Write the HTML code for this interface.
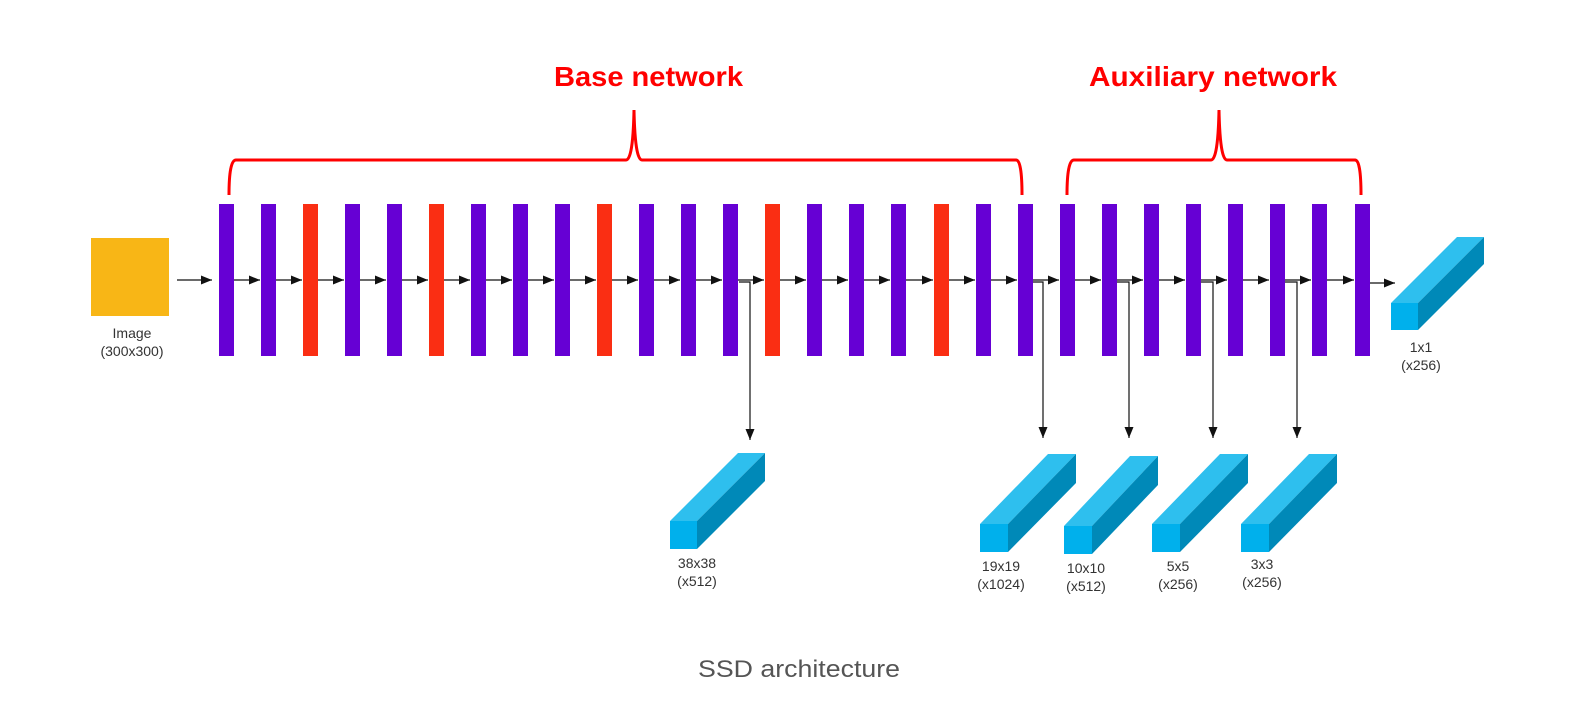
<!DOCTYPE html>
<html><head><meta charset="utf-8"><style>
html,body{margin:0;padding:0;background:#fff;}
svg{display:block;}
</style></head><body>
<svg width="1570" height="708" viewBox="0 0 1570 708" xmlns="http://www.w3.org/2000/svg" font-family="Liberation Sans, sans-serif">
<defs>
<marker id="ah" markerWidth="11" markerHeight="9" refX="11" refY="4.5" orient="auto" markerUnits="userSpaceOnUse">
<path d="M0,0 L11,4.5 L0,9 z" fill="#111"/>
</marker>
</defs>
<text x="554" y="86" font-size="28" font-weight="bold" fill="#f00" textLength="189" lengthAdjust="spacingAndGlyphs">Base network</text>
<text x="1089" y="86" font-size="28" font-weight="bold" fill="#f00" textLength="248" lengthAdjust="spacingAndGlyphs">Auxiliary network</text>
<path d="M229,195 Q229,160 236,160 L626,160 Q633,160 634,110 Q635,160 642,160 L1016,160 Q1022,160 1022,195" fill="none" stroke="#f00" stroke-width="3"/>
<path d="M1067,195 Q1067,160 1074,160 L1211,160 Q1218,160 1219,110 Q1220,160 1227,160 L1355,160 Q1361,160 1361,195" fill="none" stroke="#f00" stroke-width="3"/>
<rect x="91" y="238" width="78" height="78" fill="#F8B616"/>
<g font-size="14" fill="#333" text-anchor="middle">
<text x="132" y="338">Image</text><text x="132" y="356">(300x300)</text>
</g>
<g stroke="#111" stroke-width="1.3">
<line x1="177" y1="280" x2="212" y2="280" marker-end="url(#ah)"/>
<line x1="234" y1="280" x2="260" y2="280" marker-end="url(#ah)"/>
<line x1="276" y1="280" x2="302" y2="280" marker-end="url(#ah)"/>
<line x1="318" y1="280" x2="344" y2="280" marker-end="url(#ah)"/>
<line x1="360" y1="280" x2="386" y2="280" marker-end="url(#ah)"/>
<line x1="402" y1="280" x2="428" y2="280" marker-end="url(#ah)"/>
<line x1="444" y1="280" x2="470" y2="280" marker-end="url(#ah)"/>
<line x1="486" y1="280" x2="512" y2="280" marker-end="url(#ah)"/>
<line x1="528" y1="280" x2="554" y2="280" marker-end="url(#ah)"/>
<line x1="570" y1="280" x2="596" y2="280" marker-end="url(#ah)"/>
<line x1="612" y1="280" x2="638" y2="280" marker-end="url(#ah)"/>
<line x1="654" y1="280" x2="680" y2="280" marker-end="url(#ah)"/>
<line x1="696" y1="280" x2="722" y2="280" marker-end="url(#ah)"/>
<line x1="738" y1="280" x2="764" y2="280" marker-end="url(#ah)"/>
<line x1="780" y1="280" x2="806" y2="280" marker-end="url(#ah)"/>
<line x1="822" y1="280" x2="848" y2="280" marker-end="url(#ah)"/>
<line x1="864" y1="280" x2="890" y2="280" marker-end="url(#ah)"/>
<line x1="906" y1="280" x2="933" y2="280" marker-end="url(#ah)"/>
<line x1="949" y1="280" x2="975" y2="280" marker-end="url(#ah)"/>
<line x1="991" y1="280" x2="1017" y2="280" marker-end="url(#ah)"/>
<line x1="1033" y1="280" x2="1059" y2="280" marker-end="url(#ah)"/>
<line x1="1075" y1="280" x2="1101" y2="280" marker-end="url(#ah)"/>
<line x1="1117" y1="280" x2="1143" y2="280" marker-end="url(#ah)"/>
<line x1="1159" y1="280" x2="1185" y2="280" marker-end="url(#ah)"/>
<line x1="1201" y1="280" x2="1227" y2="280" marker-end="url(#ah)"/>
<line x1="1243" y1="280" x2="1269" y2="280" marker-end="url(#ah)"/>
<line x1="1285" y1="280" x2="1311" y2="280" marker-end="url(#ah)"/>
<line x1="1327" y1="280" x2="1354" y2="280" marker-end="url(#ah)"/>
<line x1="1370" y1="283" x2="1395" y2="283" marker-end="url(#ah)"/>
</g>
<g fill="none" stroke="#111" stroke-width="1.2">
<path d="M739,282 H750 V440" marker-end="url(#ah)"/>
<path d="M1033,282 H1043 V438" marker-end="url(#ah)"/>
<path d="M1117,282 H1129 V438" marker-end="url(#ah)"/>
<path d="M1201,282 H1213 V438" marker-end="url(#ah)"/>
<path d="M1285,282 H1297 V438" marker-end="url(#ah)"/>
</g>
<g fill="#6600D4">
<rect x="219" y="204" width="15" height="152"/>
<rect x="261" y="204" width="15" height="152"/>
<rect x="303" y="204" width="15" height="152" fill="#FA2E13"/>
<rect x="345" y="204" width="15" height="152"/>
<rect x="387" y="204" width="15" height="152"/>
<rect x="429" y="204" width="15" height="152" fill="#FA2E13"/>
<rect x="471" y="204" width="15" height="152"/>
<rect x="513" y="204" width="15" height="152"/>
<rect x="555" y="204" width="15" height="152"/>
<rect x="597" y="204" width="15" height="152" fill="#FA2E13"/>
<rect x="639" y="204" width="15" height="152"/>
<rect x="681" y="204" width="15" height="152"/>
<rect x="723" y="204" width="15" height="152"/>
<rect x="765" y="204" width="15" height="152" fill="#FA2E13"/>
<rect x="807" y="204" width="15" height="152"/>
<rect x="849" y="204" width="15" height="152"/>
<rect x="891" y="204" width="15" height="152"/>
<rect x="934" y="204" width="15" height="152" fill="#FA2E13"/>
<rect x="976" y="204" width="15" height="152"/>
<rect x="1018" y="204" width="15" height="152"/>
<rect x="1060" y="204" width="15" height="152"/>
<rect x="1102" y="204" width="15" height="152"/>
<rect x="1144" y="204" width="15" height="152"/>
<rect x="1186" y="204" width="15" height="152"/>
<rect x="1228" y="204" width="15" height="152"/>
<rect x="1270" y="204" width="15" height="152"/>
<rect x="1312" y="204" width="15" height="152"/>
<rect x="1355" y="204" width="15" height="152"/>
</g>
<g transform="translate(670,521)">
<path d="M0,0 L27,0 L95,-68 L68,-68 z" fill="#2EBFEE"/>
<path d="M27,0 L95,-68 L95,-40 L27,28 z" fill="#0089B8"/>
<rect x="0" y="0" width="27" height="28" fill="#00B0EC"/>
</g>
<g transform="translate(980,524)">
<path d="M0,0 L28,0 L96,-70 L68,-70 z" fill="#2EBFEE"/>
<path d="M28,0 L96,-70 L96,-41 L28,28 z" fill="#0089B8"/>
<rect x="0" y="0" width="28" height="28" fill="#00B0EC"/>
</g>
<g transform="translate(1064,526)">
<path d="M0,0 L28,0 L94,-70 L66,-70 z" fill="#2EBFEE"/>
<path d="M28,0 L94,-70 L94,-41 L28,28 z" fill="#0089B8"/>
<rect x="0" y="0" width="28" height="28" fill="#00B0EC"/>
</g>
<g transform="translate(1152,524)">
<path d="M0,0 L28,0 L96,-70 L68,-70 z" fill="#2EBFEE"/>
<path d="M28,0 L96,-70 L96,-41 L28,28 z" fill="#0089B8"/>
<rect x="0" y="0" width="28" height="28" fill="#00B0EC"/>
</g>
<g transform="translate(1241,524)">
<path d="M0,0 L28,0 L96,-70 L68,-70 z" fill="#2EBFEE"/>
<path d="M28,0 L96,-70 L96,-41 L28,28 z" fill="#0089B8"/>
<rect x="0" y="0" width="28" height="28" fill="#00B0EC"/>
</g>
<g transform="translate(1391,303)">
<path d="M0,0 L27,0 L93,-66 L66,-66 z" fill="#2EBFEE"/>
<path d="M27,0 L93,-66 L93,-39 L27,27 z" fill="#0089B8"/>
<rect x="0" y="0" width="27" height="27" fill="#00B0EC"/>
</g>
<g font-size="14" fill="#333" text-anchor="middle">
<text x="697" y="568">38x38</text><text x="697" y="586">(x512)</text>
<text x="1001" y="571">19x19</text><text x="1001" y="589">(x1024)</text>
<text x="1086" y="573">10x10</text><text x="1086" y="591">(x512)</text>
<text x="1178" y="571">5x5</text><text x="1178" y="589">(x256)</text>
<text x="1262" y="569">3x3</text><text x="1262" y="587">(x256)</text>
<text x="1421" y="352">1x1</text><text x="1421" y="370">(x256)</text>
</g>
<text x="698" y="677" font-size="24" fill="#555" textLength="202" lengthAdjust="spacingAndGlyphs">SSD architecture</text>
</svg>
</body></html>
